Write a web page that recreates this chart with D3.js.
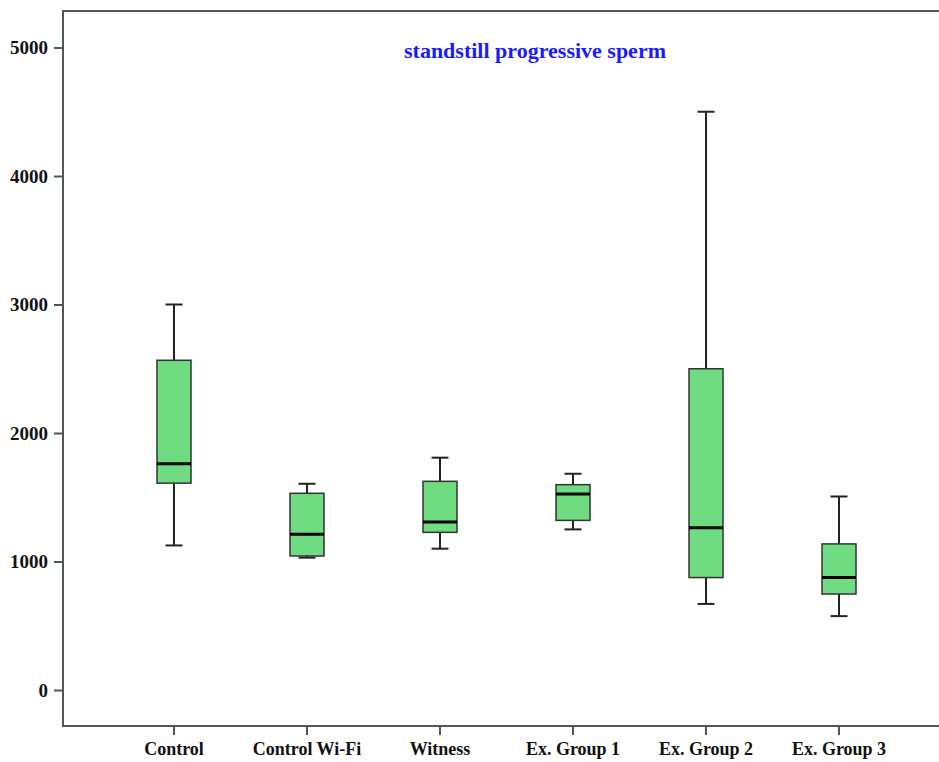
<!DOCTYPE html>
<html>
<head>
<meta charset="utf-8">
<script src="https://cdn.jsdelivr.net/npm/d3@7"></script>
<style>
  body { margin: 0; background: #fff; }
  svg { display: block; font-family: "Liberation Serif", "Times New Roman", serif; font-weight: bold; }
</style>
</head>
<body>
<div id="chart"></div>
<script>
const categories = ['Control', 'Control Wi-Fi', 'Witness', 'Ex. Group 1', 'Ex. Group 2', 'Ex. Group 3'];
const whiskerLow = [1125, 1030, 1100, 1250, 670, 575];
const q1 = [1610, 1043, 1227, 1320, 875, 747];
const medians = [1760, 1212, 1307, 1525, 1263, 875];
const q3 = [2566, 1531, 1624, 1598, 2500, 1137];
const whiskerHigh = [3000, 1605, 1808, 1683, 4500, 1506];
const yTicks = [0, 1000, 2000, 3000, 4000, 5000];
const title = 'standstill progressive sperm';

const width = 939;
const height = 762;
const frame = { left: 63, top: 11, bottom: 726 };

const boxes = categories.map((name, i) => ({
  name,
  low: whiskerLow[i],
  q1: q1[i],
  median: medians[i],
  q3: q3[i],
  high: whiskerHigh[i],
}));

const svg = d3.select('#chart').append('svg').attr('width', width).attr('height', height);

const x = d3.scaleBand().domain(categories).range([107.5, 905.5]);
const y = d3.scaleLinear().domain([-280, 5284]).range([frame.bottom, frame.top]);

const boxWidth = 34;
const capWidth = 17;

// frame (top and left border, open on the right)
svg.append('path')
  .attr('d', `M${width},${frame.top}H${frame.left}V${frame.bottom}H${width}`)
  .attr('fill', 'none')
  .attr('stroke', '#555')
  .attr('stroke-width', 2);

// y axis
const yAxis = svg.append('g')
  .attr('transform', `translate(${frame.left},0)`)
  .call(d3.axisLeft(y).tickValues(yTicks).tickSize(9).tickPadding(6).tickFormat(d3.format('d')));
yAxis.select('.domain').remove();
yAxis.selectAll('.tick line').attr('stroke', '#555').attr('stroke-width', 2);
yAxis.selectAll('.tick text')
  .attr('fill', '#111')
  .style('font-size', '19px')
  .style('font-family', '"Liberation Serif", serif')
  .style('font-weight', 'bold');

// x axis
const xAxis = svg.append('g')
  .attr('transform', `translate(0,${frame.bottom})`)
  .call(d3.axisBottom(x).tickSize(9).tickPadding(7));
xAxis.select('.domain').remove();
xAxis.selectAll('.tick line').attr('stroke', '#555').attr('stroke-width', 2);
xAxis.selectAll('.tick text')
  .attr('fill', '#111')
  .style('font-size', '18px')
  .style('font-family', '"Liberation Serif", serif')
  .style('font-weight', 'bold');

// boxes
const g = svg.selectAll('.box')
  .data(boxes).enter().append('g')
  .attr('class', 'box')
  .attr('transform', d => `translate(${x(d.name) + x.bandwidth() / 2},0)`);

g.append('line')
  .attr('x1', 0).attr('x2', 0)
  .attr('y1', d => y(d.high)).attr('y2', d => y(d.low))
  .attr('stroke', '#222').attr('stroke-width', 2);

g.append('line')
  .attr('x1', -capWidth / 2).attr('x2', capWidth / 2)
  .attr('y1', d => y(d.high)).attr('y2', d => y(d.high))
  .attr('stroke', '#222').attr('stroke-width', 2);

g.append('line')
  .attr('x1', -capWidth / 2).attr('x2', capWidth / 2)
  .attr('y1', d => y(d.low)).attr('y2', d => y(d.low))
  .attr('stroke', '#222').attr('stroke-width', 2);

g.append('rect')
  .attr('x', -boxWidth / 2)
  .attr('width', boxWidth)
  .attr('y', d => y(d.q3))
  .attr('height', d => y(d.q1) - y(d.q3))
  .attr('fill', '#6fdc82')
  .attr('stroke', '#333')
  .attr('stroke-width', 1.5);

g.append('line')
  .attr('x1', -boxWidth / 2).attr('x2', boxWidth / 2)
  .attr('y1', d => y(d.median)).attr('y2', d => y(d.median))
  .attr('stroke', '#000').attr('stroke-width', 3);

// title
svg.append('text')
  .attr('x', 535)
  .attr('y', 58)
  .attr('text-anchor', 'middle')
  .attr('fill', '#1a1aff')
  .style('font-size', '22px')
  .text(title);
</script>
</body>
</html>
